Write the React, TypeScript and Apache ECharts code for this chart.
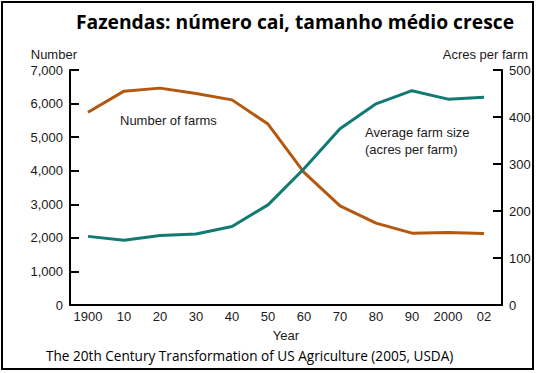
import React, { useEffect, useRef } from "react";
import * as echarts from "echarts";

const years = ["1900", "10", "20", "30", "40", "50", "60", "70", "80", "90", "2000", "02"];
const farmsNumber = [5740, 6370, 6460, 6300, 6110, 5390, 3950, 2950, 2440, 2140, 2160, 2130];
const farmSize = [146, 138, 148, 151, 167, 213, 290, 375, 428, 456, 438, 442];
const leftTicks = [0, 7000, 1000];
const rightTicks = [0, 500, 100];

const ORANGE = "#B4580F";
const TEAL = "#117A72";
const AXIS_FONT = "'Liberation Sans', Arial, sans-serif";

export default function App() {
  const ref = useRef<HTMLDivElement>(null);
  useEffect(() => {
    if (!ref.current) return;
    const chart = echarts.init(ref.current, undefined, { renderer: "svg" });
    chart.setOption({
      animation: false,
      backgroundColor: "#ffffff",
      title: {
        text: "Fazendas: número cai, tamanho médio cresce",
        left: 290,
        textAlign: "center",
        top: 7,
        textStyle: {
          fontFamily: "'Open Sans', sans-serif",
          fontWeight: "bold",
          fontSize: 19.3,
          color: "#000",
        },
      },
      grid: { left: 70, right: 34, top: 70, bottom: 68 },
      xAxis: {
        type: "category",
        data: years,
        boundaryGap: true,
        name: "Year",
        nameLocation: "middle",
        nameGap: 24,
        nameTextStyle: { fontFamily: AXIS_FONT, fontSize: 13, color: "#1a1a1a" },
        axisLine: { lineStyle: { color: "#000", width: 2 } },
        axisTick: { alignWithLabel: true, inside: true, length: 5, interval: 0, lineStyle: { color: "#000", width: 2 } },
        axisLabel: { fontFamily: AXIS_FONT, fontSize: 13, color: "#1a1a1a", margin: 5, interval: 0 },
      },
      yAxis: [
        {
          type: "value",
          min: leftTicks[0],
          max: leftTicks[1],
          interval: leftTicks[2],
          name: "Number",
          nameLocation: "end",
          nameGap: 16,
          nameTextStyle: {
            fontFamily: AXIS_FONT,
            fontSize: 13,
            color: "#1a1a1a",
            align: "right",
            verticalAlign: "middle",
            padding: [0, -7, 0, 0],
          },
          axisLine: { show: true, lineStyle: { color: "#000", width: 2 } },
          axisTick: { show: true, inside: true, length: 9, lineStyle: { color: "#000", width: 2 } },
          axisLabel: {
            fontFamily: AXIS_FONT,
            fontSize: 13,
            color: "#1a1a1a",
            margin: 7,
            formatter: (v: number) => v.toLocaleString("en-US"),
          },
          splitLine: { show: false },
        },
        {
          type: "value",
          min: rightTicks[0],
          max: rightTicks[1],
          interval: rightTicks[2],
          position: "right",
          name: "Acres per farm",
          nameLocation: "end",
          nameGap: 16,
          nameTextStyle: {
            fontFamily: AXIS_FONT,
            fontSize: 13,
            color: "#1a1a1a",
            align: "right",
            verticalAlign: "middle",
            padding: [0, -26, 0, 0],
          },
          axisLine: { show: true, lineStyle: { color: "#000", width: 2 } },
          axisTick: { show: true, inside: true, length: 9, lineStyle: { color: "#000", width: 2 } },
          axisLabel: { fontFamily: AXIS_FONT, fontSize: 13, color: "#1a1a1a", margin: 7 },
          splitLine: { show: false },
        },
      ],
      series: [
        {
          name: "Number of farms",
          type: "line",
          yAxisIndex: 0,
          data: farmsNumber,
          showSymbol: false,
          symbol: "none",
          lineStyle: { color: ORANGE, width: 3 },
          itemStyle: { color: ORANGE },
        },
        {
          name: "Average farm size",
          type: "line",
          yAxisIndex: 1,
          data: farmSize,
          showSymbol: false,
          symbol: "none",
          lineStyle: { color: TEAL, width: 3 },
          itemStyle: { color: TEAL },
        },
      ],
      graphic: [
        {
          type: "rect",
          shape: { x: 2, y: 2, width: 531, height: 367 },
          style: { fill: "none", stroke: "#000", lineWidth: 2 },
          silent: true,
        },
        {
          type: "text",
          x: 120,
          y: 120,
          style: {
            text: "Number of farms",
            font: `13px ${AXIS_FONT}`,
            fill: "#1a1a1a",
            textVerticalAlign: "middle",
          },
        },
        {
          type: "text",
          x: 365,
          y: 124,
          style: {
            text: "Average farm size\n(acres per farm)",
            font: `13px ${AXIS_FONT}`,
            lineHeight: 17,
            fill: "#1a1a1a",
          },
        },
        {
          type: "text",
          x: 46,
          y: 355,
          style: {
            text: "The 20th Century Transformation of US Agriculture (2005, USDA)",
            font: `13.6px 'Open Sans', sans-serif`,
            fill: "#000",
            textVerticalAlign: "middle",
          },
        },
      ],
    });
    return () => chart.dispose();
  }, []);
  return <div ref={ref} style={{ width: 536, height: 373, position: "absolute", left: 0, top: 0 }} />;
}
